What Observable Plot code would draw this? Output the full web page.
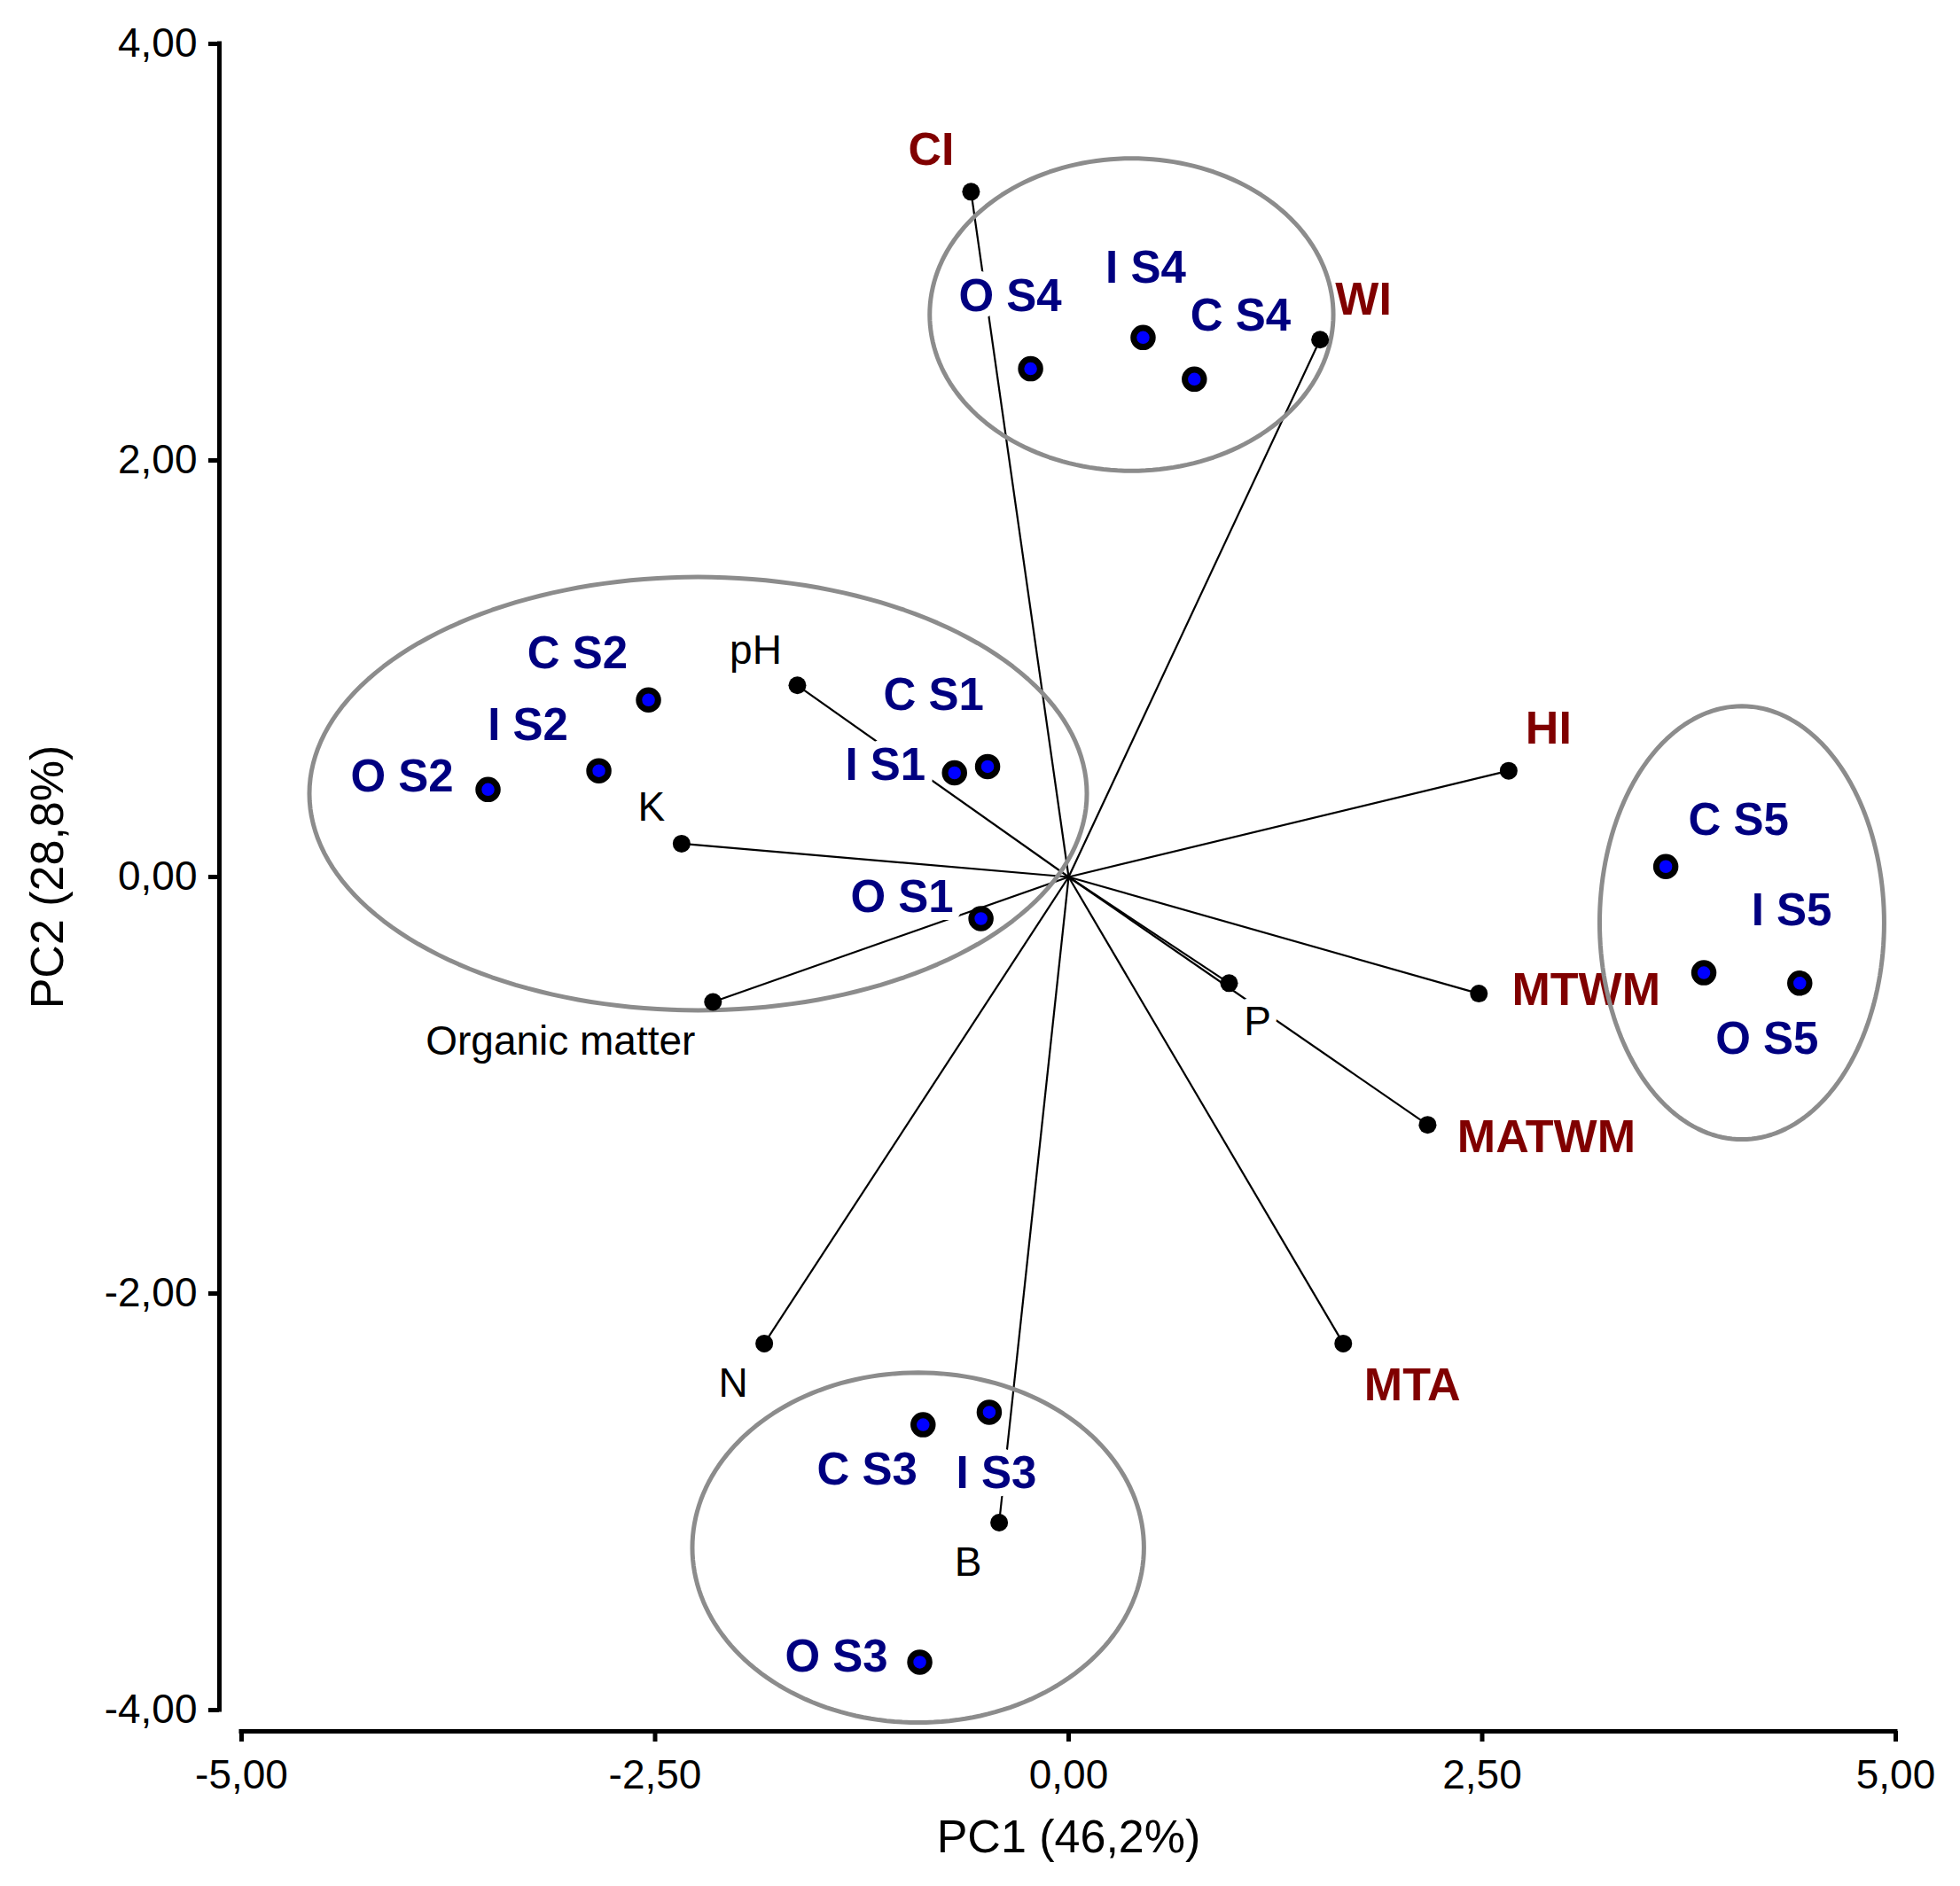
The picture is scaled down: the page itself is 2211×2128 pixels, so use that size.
<!DOCTYPE html>
<html>
<head>
<meta charset="utf-8">
<script src="https://cdn.jsdelivr.net/npm/d3@7"></script>
<script src="https://cdn.jsdelivr.net/npm/@observablehq/plot@0.6"></script>
<style>
  html, body { margin: 0; padding: 0; background: #fff; overflow: hidden; }
  #chart svg { display: block; }
</style>
</head>
<body>
<div id="chart"></div>
<script>
// ---------- data ----------
const xTicks = [-5, -2.5, 0, 2.5, 5];
const yTicks = [-4, -2, 0, 2, 4];
const xLabel = "PC1 (46,2%)";
const yLabel = "PC2 (28,8%)";

const sampleNames = ["C S1","I S1","O S1","C S2","I S2","O S2","C S3","I S3","O S3","C S4","I S4","O S4","C S5","I S5","O S5"];
const samplePC1   = [-0.49, -0.69, -0.53, -2.54, -2.84, -3.51, -0.88, -0.48, -0.90, 0.76, 0.45, -0.23, 3.61, 3.84, 4.42];
const samplePC2   = [ 0.53,  0.50, -0.20,  0.85,  0.51,  0.42, -2.63, -2.57, -3.77, 2.39, 2.59,  2.44, 0.05, -0.46, -0.51];

const varNames = ["CI","WI","HI","MTWM","MATWM","MTA","pH","K","Organic matter","P","N","B"];
const varGroup = ["climate","climate","climate","climate","climate","climate","soil","soil","soil","soil","soil","soil"];
const varPC1   = [-0.59, 1.52, 2.66, 2.48, 2.17, 1.66, -1.64, -2.34, -2.15, 0.97, -1.84, -0.42];
const varPC2   = [ 3.29, 2.58, 0.51, -0.56, -1.19, -2.24, 0.92, 0.16, -0.60, -0.51, -2.24, -3.10];

const groupNames = ["S1-S2","S3","S4","S5"];
const groupCx = [-2.24, -0.91, 0.38, 4.07];
const groupCy = [ 0.40, -3.22, 2.70, -0.22];
const groupRx = [ 2.35,  1.365, 1.22, 0.86];
const groupRy = [ 1.04,  0.84, 0.75, 1.04];

// ---------- layout (label offsets in px) ----------
const sampleLabelOffset = {
  "C S1": [-61, -80], "I S1": [-78, -8], "O S1": [-89, -24],
  "C S2": [-80, -52], "I S2": [-80, -51], "O S2": [-97, -14],
  "C S3": [-63, 51],  "I S3": [8, 69],    "O S3": [-94, -6],
  "C S4": [52, -71],  "I S4": [3, -78],   "O S4": [-23, -81],
  "C S5": [82, -52],  "I S5": [99, -70],  "O S5": [-37, 63]
};
const varLabelOffset = {
  "CI": [-45, -47], "WI": [49, -45], "HI": [45, -47], "MTWM": [121, -4], "MATWM": [134, 14], "MTA": [78, 47],
  "pH": [-47, -39], "K": [-34, -41], "Organic matter": [-172, 45], "P": [32, 44], "N": [-35, 45], "B": [-35, 45]
};

// ---------- build ----------
const font = "'Liberation Sans', Arial, sans-serif";
const fmt = d => d.toFixed(2).replace(".", ",");

const samples = sampleNames.map((name, i) => ({name, x: samplePC1[i], y: samplePC2[i]}));
const vars = varNames.map((name, i) => ({name, group: varGroup[i], x: varPC1[i], y: varPC2[i]}));

const ellipsePts = groupNames.flatMap((g, i) =>
  d3.range(0, 361, 2).map(a => {
    const t = a * Math.PI / 180;
    return {g, x: groupCx[i] + groupRx[i] * Math.cos(t), y: groupCy[i] + groupRy[i] * Math.sin(t)};
  })
);

const xMin = xTicks[0], xMax = xTicks[xTicks.length - 1];
const yMin = yTicks[0], yMax = yTicks[yTicks.length - 1];

const halo = {stroke: "white", strokeWidth: 18, paintOrder: "stroke", textAnchor: "middle", lineAnchor: "middle"};

const marks = [
  // vectors
  Plot.link(vars, {x1: 0, y1: 0, x2: "x", y2: "y", stroke: "black", strokeWidth: 2.2}),
  // variable labels
  ...vars.map(d => Plot.text([d], {
    x: "x", y: "y", text: "name",
    dx: varLabelOffset[d.name][0], dy: varLabelOffset[d.name][1],
    fill: d.group === "climate" ? "#800000" : "black",
    fontWeight: d.group === "climate" ? "bold" : "normal",
    fontSize: d.group === "climate" ? 52 : 46,
    ...halo
  })),
  // sample labels
  ...samples.map(d => Plot.text([d], {
    x: "x", y: "y", text: "name",
    dx: sampleLabelOffset[d.name][0], dy: sampleLabelOffset[d.name][1],
    fill: "#000080", fontWeight: "bold", fontSize: 51,
    ...halo
  })),
  // group ellipses
  Plot.line(ellipsePts, {x: "x", y: "y", z: "g", stroke: "#8c8c8c", strokeWidth: 5, curve: "linear"}),
  // dots
  Plot.dot(vars, {x: "x", y: "y", r: 10, fill: "black"}),
  Plot.dot(samples, {x: "x", y: "y", r: 10.75, fill: "#0000ff", stroke: "black", strokeWidth: 7}),
  // axes
  Plot.ruleX([xMin], {y1: yMin, y2: yMax, dx: -25, stroke: "black", strokeWidth: 5, strokeLinecap: "square"}),
  Plot.ruleY([yMin], {x1: xMin, x2: xMax, dy: 24, stroke: "black", strokeWidth: 5, strokeLinecap: "square"}),
  Plot.axisY({ticks: yTicks, anchor: "left", tickFormat: fmt, tickSize: 12, tickPadding: 13, strokeWidth: 5, fontSize: 46, dx: -25, label: null}),
  Plot.axisX({ticks: xTicks, anchor: "bottom", tickFormat: fmt, tickSize: 12, tickPadding: 20, strokeWidth: 5, fontSize: 46, dy: 24, label: null}),
  // axis titles
  Plot.text([yLabel], {frameAnchor: "left", rotate: -90, dx: 54 - 272, text: d => d, fontSize: 52, textAnchor: "middle", lineAnchor: "middle", fill: "black"}),
  Plot.text([xLabel], {frameAnchor: "bottom", dy: 144, text: d => d, fontSize: 52, textAnchor: "middle", lineAnchor: "middle", fill: "black"})
];

const chart = Plot.plot({
  width: 2211,
  height: 2128,
  marginLeft: 272,
  marginRight: 73,
  marginTop: 49,
  marginBottom: 199,
  x: {domain: [xMin, xMax]},
  y: {domain: [yMin, yMax]},
  style: {fontFamily: font, background: "white", color: "black", overflow: "visible"},
  marks
});
document.getElementById("chart").appendChild(chart);
</script>
</body>
</html>
